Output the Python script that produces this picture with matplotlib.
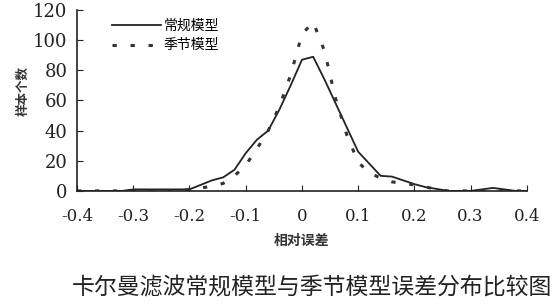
import matplotlib
matplotlib.use("Agg")
import matplotlib.pyplot as plt

plt.rcParams['font.family'] = ['Noto Sans CJK SC', 'DejaVu Sans']

# relative error bins
x_vals = [-0.40, -0.38, -0.36, -0.34, -0.32, -0.30, -0.28, -0.26, -0.24, -0.22,
          -0.20, -0.18, -0.16, -0.14, -0.12, -0.10, -0.08, -0.06, -0.04, -0.02,
          0.00, 0.02, 0.04, 0.06, 0.08, 0.10, 0.12, 0.14, 0.16, 0.18,
          0.20, 0.22, 0.24, 0.26, 0.28, 0.30, 0.32, 0.34, 0.36, 0.38, 0.40]

# 常规模型 counts
regular = [0, 0, 0, 0, 0, 1, 1, 1, 1, 1,
           1, 4, 7, 9, 14, 25, 34, 40, 54, 70,
           87, 89, 74, 58, 42, 26, 18, 10, 9.5, 7,
           4.5, 2.5, 1.3, 0, 0, 0, 1, 2, 1, 0, 0]

# 季节模型 counts
seasonal = [0, 0, 0, 0, 0, 0, 0, 0, 0, 0,
            1, 2, 3, 5, 10, 17, 28, 40, 56, 77,
            104, 112, 93, 61, 37, 19, 12, 8.5, 6, 5,
            4, 2.6, 1, 0, 0, 0, 0, 0, 0, 0, 0]

x_ticks = [-0.4, -0.3, -0.2, -0.1, 0, 0.1, 0.2, 0.3, 0.4]
x_tick_labels = ["-0.4", "-0.3", "-0.2", "-0.1", "0", "0.1", "0.2", "0.3", "0.4"]
y_ticks = [0, 20, 40, 60, 80, 100, 120]

fig = plt.figure(figsize=(5.54, 3.04), dpi=100)
fig.patch.set_facecolor("white")
ax = fig.add_axes([0.139, 0.372, 0.812, 0.595])

ax.plot(x_vals, regular, color="#222222", lw=1.3, label="常规模型")
ax.plot(x_vals, seasonal, color="#333333", lw=2.2, linestyle=(0, (1.4, 4.5)), label="季节模型")

ax.set_xlim(-0.4, 0.4)
ax.set_ylim(0, 120)
ax.set_xticks(x_ticks)
ax.set_xticklabels(x_tick_labels, family="DejaVu Serif", fontsize=12)
ax.set_yticks(y_ticks)
ax.set_yticklabels([str(v) for v in y_ticks], family="DejaVu Serif", fontsize=13)
ax.tick_params(axis="x", direction="in", length=4, pad=12, colors="#222222")
ax.tick_params(axis="y", direction="in", length=4, pad=7, colors="#222222")

for side in ["top", "right"]:
    ax.spines[side].set_visible(False)
for side in ["left", "bottom"]:
    ax.spines[side].set_color("#222222")
    ax.spines[side].set_linewidth(1.2)

ax.set_xlabel("相对误差", fontsize=10, fontweight="bold", color="#333333", labelpad=7)
ax.set_ylabel("样本个数", fontsize=9, fontweight="bold", color="#333333")
ax.yaxis.set_label_coords(-0.105, 0.55)

ax.legend(loc="upper left", bbox_to_anchor=(0.05, 1.02), frameon=False,
          fontsize=10, handlelength=3.5, handletextpad=0.2, labelspacing=0.4)

fig.text(0.564, 0.053, "卡尔曼滤波常规模型与季节模型误差分布比较图", ha="center", va="center",
         fontsize=16.5, color="#222222")

fig.savefig("out.png", dpi=100)
